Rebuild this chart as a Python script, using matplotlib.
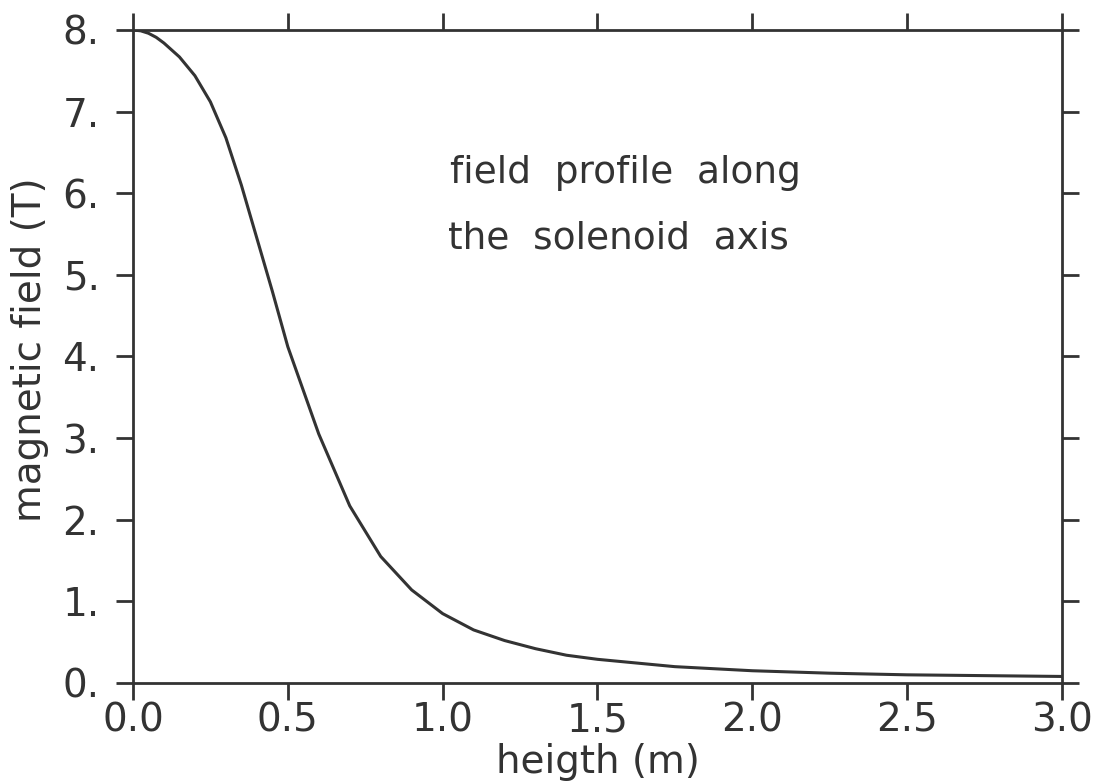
import matplotlib
matplotlib.use("Agg")
import matplotlib.pyplot as plt

# field profile
height = [0.0, 0.025, 0.05, 0.075, 0.1, 0.15, 0.2, 0.25, 0.3, 0.35, 0.4, 0.45, 0.5,
          0.6, 0.7, 0.8, 0.9, 1.0, 1.1, 1.2, 1.3, 1.4, 1.5,
          1.75, 2.0, 2.25, 2.5, 2.75, 3.0]
field = [8.0, 7.99, 7.96, 7.91, 7.84, 7.67, 7.44, 7.12, 6.68, 6.1, 5.45, 4.8, 4.12,
         3.05, 2.17, 1.55, 1.14, 0.85, 0.65, 0.52, 0.42, 0.34, 0.29,
         0.2, 0.15, 0.12, 0.1, 0.09, 0.08]

xticks = [0.0, 0.5, 1.0, 1.5, 2.0, 2.5, 3.0]
xlabels = ["0.0", "0.5", "1.0", "1.5", "2.0", "2.5", "3.0"]
yticks = [0, 1, 2, 3, 4, 5, 6, 7, 8]
ylabels = ["0.", "1.", "2.", "3.", "4.", "5.", "6.", "7.", "8."]

ink = "#333333"
fs = 28
plt.rcParams['font.family'] = ['DejaVu Sans']

fig = plt.figure(figsize=(10.98, 7.81), dpi=100)
ax = fig.add_axes([0.1211, 0.1255, 0.9672 - 0.1211, 0.9616 - 0.1255])

ax.plot(height, field, color=ink, lw=2.2)

ax.set_xlim(0, 3)
ax.set_ylim(0, 8)
ax.set_xticks(xticks)
ax.set_xticklabels(xlabels)
ax.set_yticks(yticks)
ax.set_yticklabels(ylabels)

ax.tick_params(axis='both', direction='out', length=12, width=2, color=ink,
               labelsize=fs, labelcolor=ink, top=True, right=True)
ax.tick_params(axis='x', pad=1)
ax.tick_params(axis='y', pad=12)
for s in ax.spines.values():
    s.set_linewidth(2)
    s.set_color(ink)

ax.set_xlabel("heigth (m)", fontsize=fs, color=ink)
ax.set_ylabel("magnetic field (T)", fontsize=fs, color=ink)
ax.xaxis.set_label_coords(0.5, -0.092)
ax.yaxis.set_label_coords(-0.09, 0.51)

ax.text(0.341, 0.766, "field  profile  along", transform=ax.transAxes,
        fontsize=27, color=ink, va='baseline')
ax.text(0.339, 0.666, "the  solenoid  axis", transform=ax.transAxes,
        fontsize=27, color=ink, va='baseline')

fig.savefig("out.png", dpi=100)
